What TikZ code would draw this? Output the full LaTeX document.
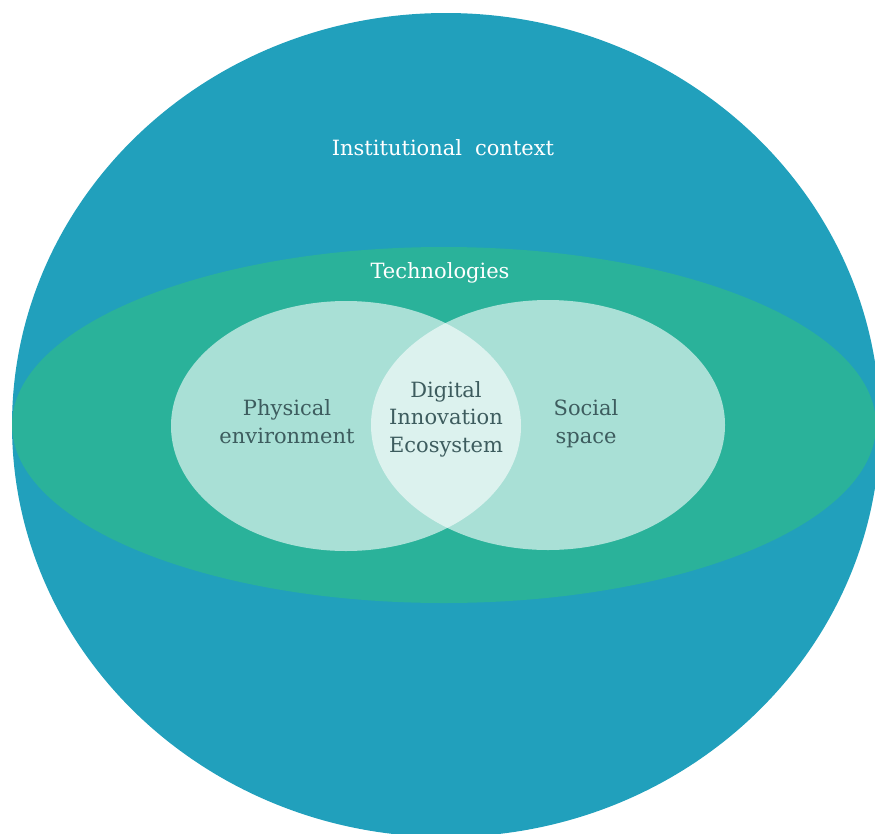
\documentclass[tikz,border=0pt]{standalone}
\usepackage{fontspec}
\setmainfont{DejaVu Serif}
\definecolor{ctxblue}{HTML}{21A0BC}
\definecolor{techgreen}{HTML}{2AB29A}
\definecolor{labelink}{HTML}{3D5C5E}
\begin{document}
\begin{tikzpicture}[x=1pt,y=-1pt,
  lightset/.style={fill=white, fill opacity=0.6},
  outerlabel/.style={text=white, font=\fontsize{21}{27}\selectfont, inner sep=0pt, anchor=base},
  innerlabel/.style={text=labelink, font=\fontsize{21}{27.5}\selectfont, align=center, inner sep=0pt, anchor=base}]
\useasboundingbox (0,0) rectangle (875,833);
\clip (0,0) rectangle (875,833);
% institutional context
\fill[ctxblue] (446,425) ellipse [x radius=434, y radius=412];
% technologies band
\fill[techgreen] (444,425) ellipse [x radius=432, y radius=178];
% the two overlapping sets
\fill[lightset] (346,426) ellipse [x radius=175, y radius=125];
\fill[lightset] (548,425) ellipse [x radius=177, y radius=125];
% labels (base anchor sits on the last line's baseline)
\node[outerlabel] (ctx) at (443,155) {Institutional\hspace{0.3em} context};
\node[outerlabel] (tech) at (440,278) {Technologies};
\node[innerlabel] (phys) at (287,443) {Physical\\environment};
\node[innerlabel] (die) at (446,452) {Digital\\Innovation\\Ecosystem};
\node[innerlabel] (soc) at (586,443) {Social\\space};
\end{tikzpicture}
\end{document}
